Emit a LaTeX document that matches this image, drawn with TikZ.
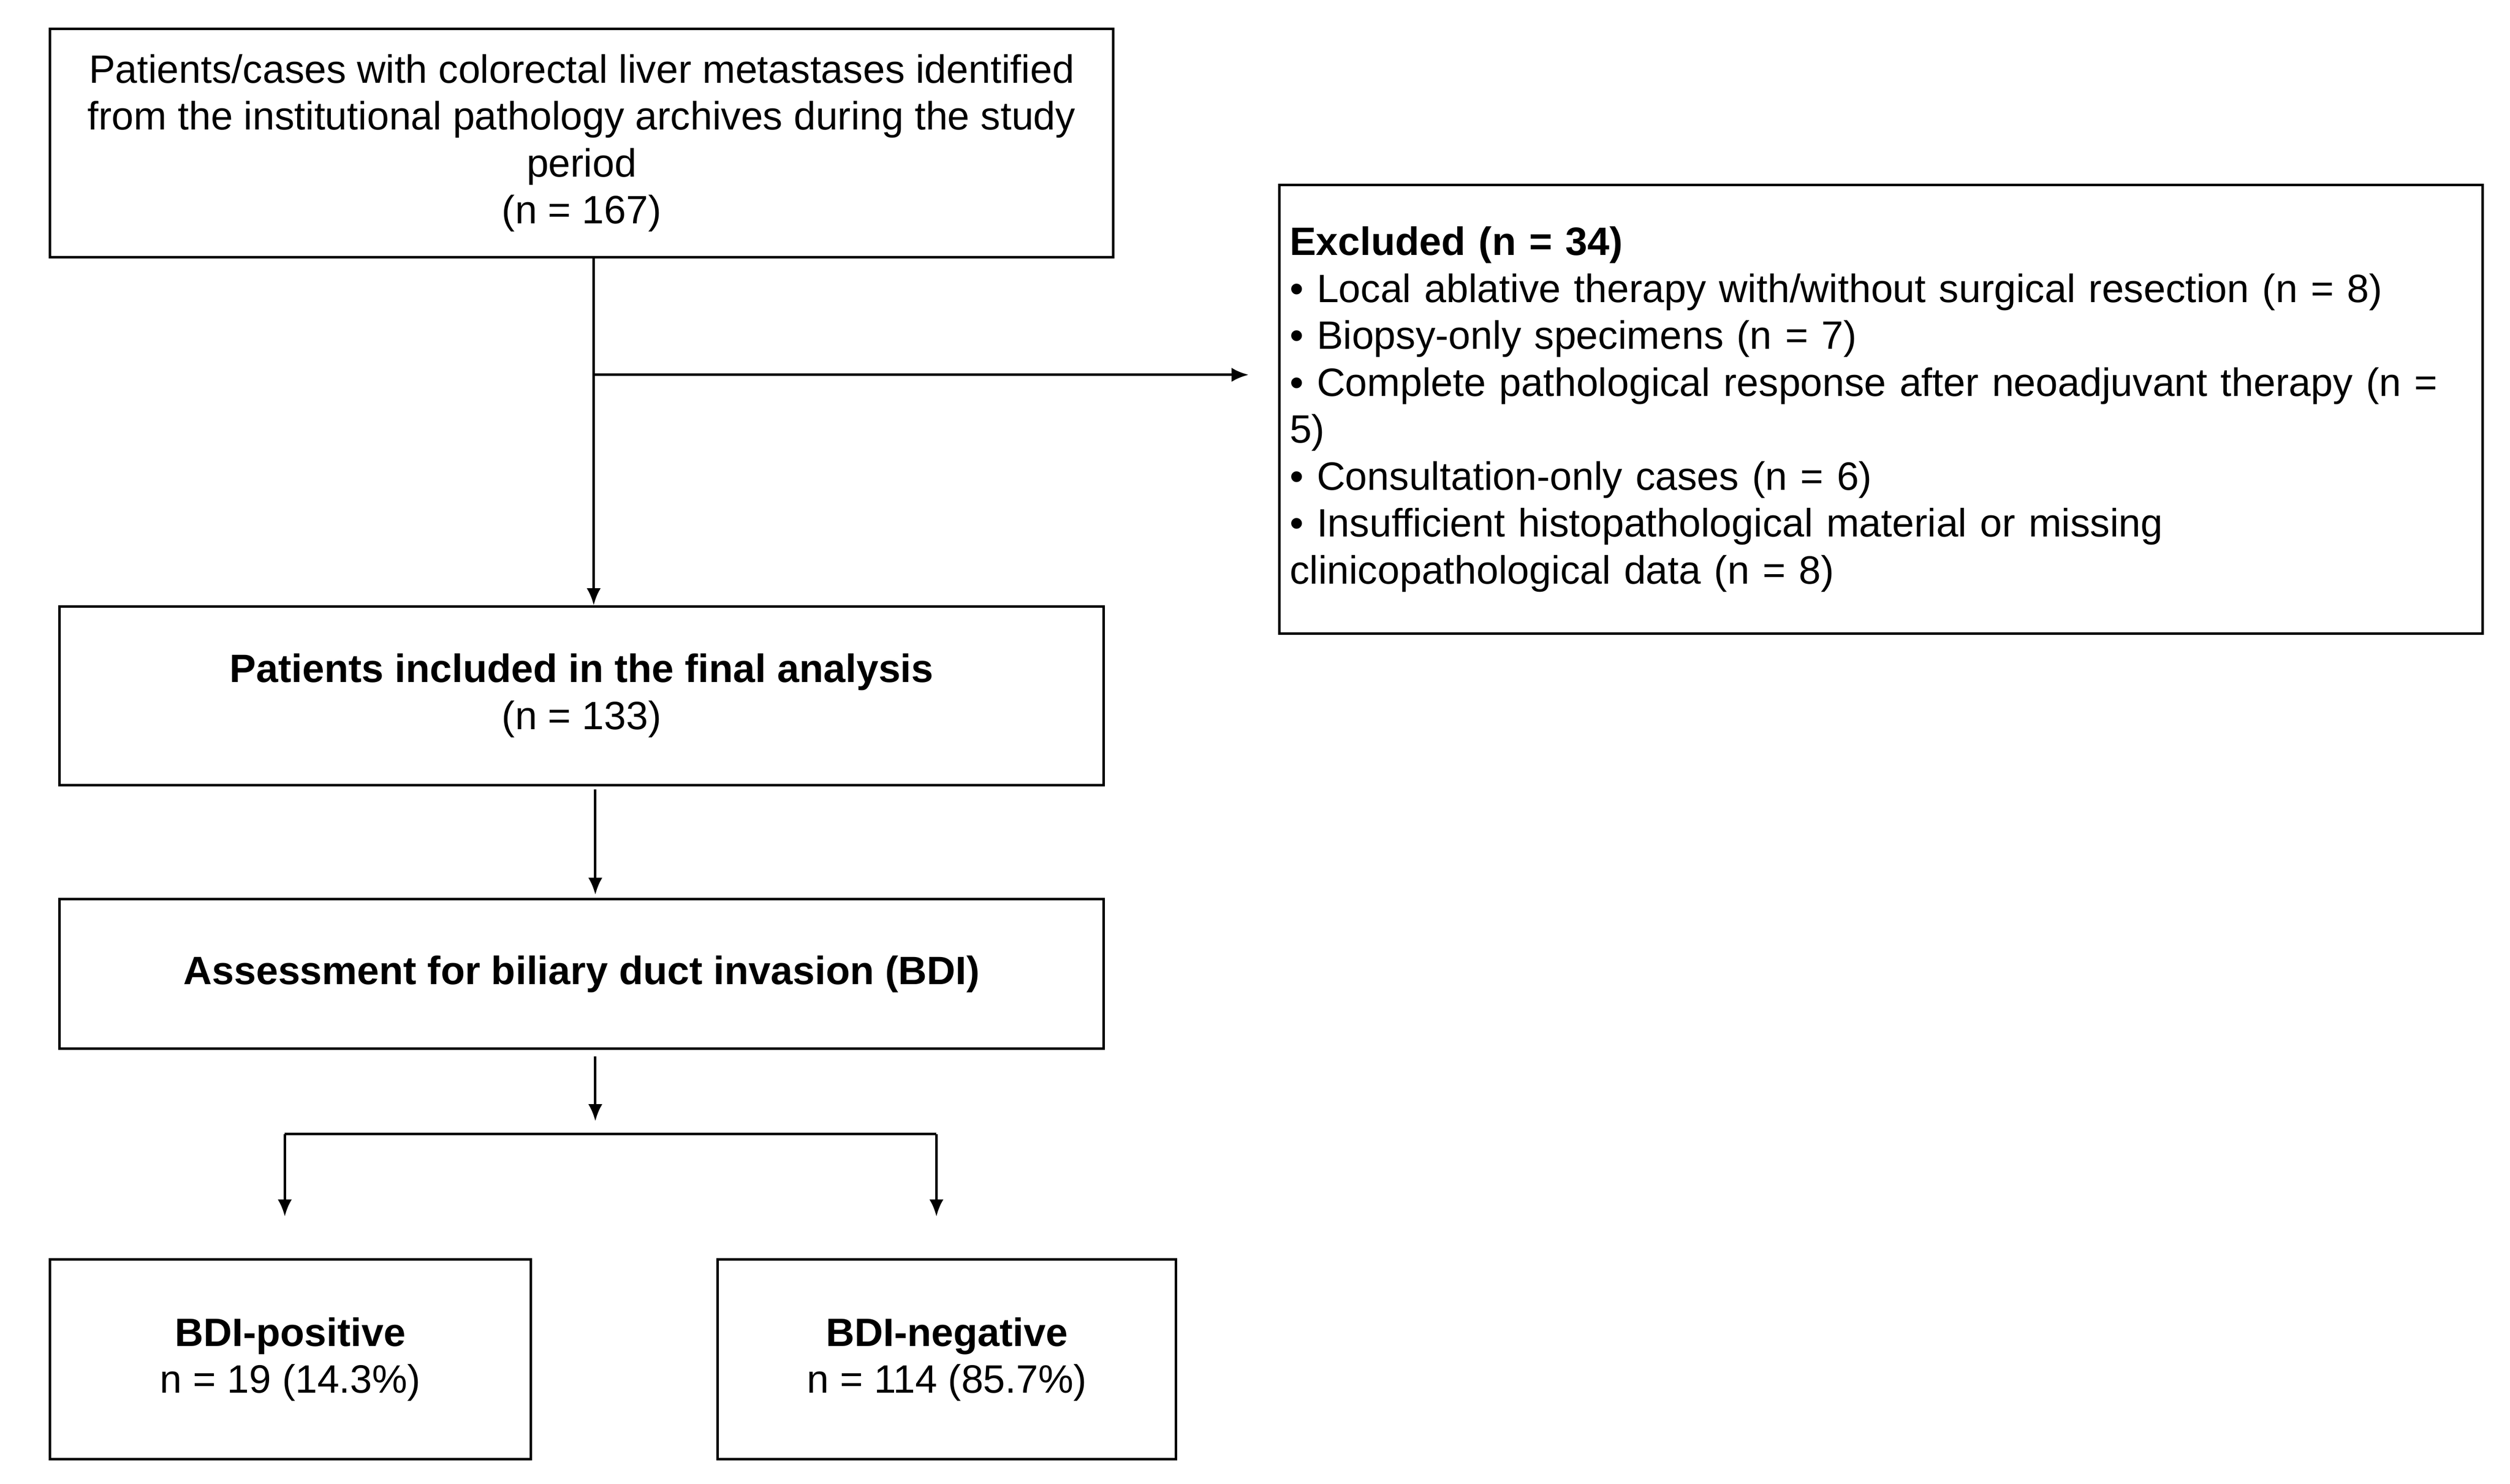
\documentclass[tikz,border=0pt]{standalone}
\usepackage{fontspec}
\setmainfont{Liberation Sans}
\usetikzlibrary{arrows.meta,calc}
\tikzset{font={\fontsize{14}{16.6}\selectfont}}

\begin{document}
\begin{tikzpicture}[x=0.02cm,y=-0.02cm,
    box/.style={draw,line width=0.9pt,align=center,inner sep=0pt},
    flow/.style={line width=0.9pt,-{Latex[length=6pt,width=5pt]}},
    link/.style={line width=0.9pt}]

  \useasboundingbox (0,0) rectangle (1560,922.4);

  % boxes
  \node[box,minimum width=661\pgflinewidth/0.9pt*0.02cm/1pt,minimum width=13.22cm,minimum height=2.84cm] (cases) at (361.5,89)
    {Patients/cases with colorectal liver metastases identified\\
     from the institutional pathology archives during the study\\
     period\\(n = 167)};
  \node[box,minimum width=14.96cm,minimum height=5.58cm,text width=14.7cm,align=left] (excl) at (1169,254.5)
    {\textbf{Excluded (n = 34)}\\
     \textbullet{} Local ablative therapy with/without surgical resection (n = 8)\\
     \textbullet{} Biopsy-only specimens (n = 7)\\
     \textbullet{} Complete pathological response after neoadjuvant therapy (n = 5)\\
     \textbullet{} Consultation-only cases (n = 6)\\
     \textbullet{} Insufficient histopathological material or missing\\
     clinicopathological data (n = 8)};
  \node[box,minimum width=12.98cm,minimum height=2.22cm] (incl) at (361.5,432.5)
    {\textbf{Patients included in the final analysis}\\(n = 133)};
  \node[box,minimum width=12.98cm,minimum height=1.86cm] (bdi) at (361.5,605.5)
    {\textbf{Assessment for biliary duct invasion (BDI)}};
  \node[box,minimum width=5.98cm,minimum height=2.48cm] (pos) at (180.5,845)
    {\textbf{BDI-positive}\\n = 19 (14.3\%)};
  \node[box,minimum width=5.7cm,minimum height=2.48cm] (neg) at (588.5,845)
    {\textbf{BDI-negative}\\n = 114 (85.7\%)};

  % connectors
  \coordinate (split) at (369,233);
  \coordinate (exclin) at (776,233);
  \coordinate (fork) at (370,705);
  \draw[flow] (cases.south -| split) -- (incl.north -| split);
  \draw[flow] (split) -- (exclin);
  \draw[flow] (incl.south -| fork) ++(0,2) -- ($(bdi.north -| fork)+(0,-2)$);
  \draw[flow] ($(bdi.south -| fork)+(0,4)$) -- ($(fork)+(0,-8)$);
  \draw[link] (177,705) -- (582,705);
  \draw[flow] (177,705) -- ($(pos.north -| 177,0)+(0,-26)$);
  \draw[flow] (582,705) -- ($(neg.north -| 582,0)+(0,-26)$);
\end{tikzpicture}
\end{document}
